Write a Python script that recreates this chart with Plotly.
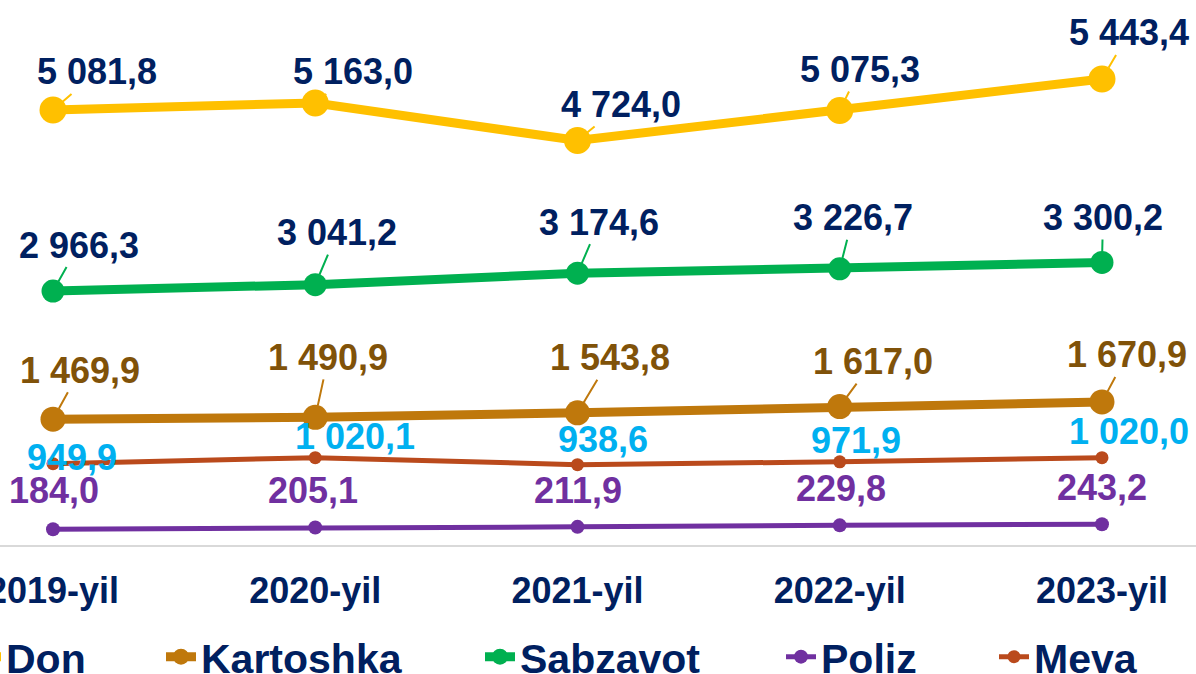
import plotly.graph_objects as go

# ---------------- data ----------------
years = ["2019-yil", "2020-yil", "2021-yil", "2022-yil", "2023-yil"]
don = [5081.8, 5163.0, 4724.0, 5075.3, 5443.4]
kartoshka = [1469.9, 1490.9, 1543.8, 1617.0, 1670.9]
sabzavot = [2966.3, 3041.2, 3174.6, 3226.7, 3300.2]
poliz = [184.0, 205.1, 211.9, 229.8, 243.2]
meva = [949.9, 1020.1, 938.6, 971.9, 1020.0]

series_names = ["Don", "Kartoshka", "Sabzavot", "Poliz", "Meva"]
series_values = [don, kartoshka, sabzavot, poliz, meva]

# ---------------- styles ----------------
FONT = "Liberation Sans, Arial, sans-serif"
NAVY = "#002060"

styles = {
    "Don": dict(color="#FFC000", width=9, size=27, label="#002060", leader=True, standoff=13,
                offsets=[(44, -38), (38, -31), (44, -36), (20, -41), (27, -46)], legendwidth=150),
    "Kartoshka": dict(color="#BF780C", width=9, size=25, label="#805209", leader=True, standoff=12,
                      offsets=[(27, -49), (13, -60), (33, -55), (33, -45), (25, -47)], legendwidth=274),
    "Sabzavot": dict(color="#00B050", width=9, size=23, label="#002060", leader=True, standoff=11,
                     offsets=[(26, -46), (22, -52), (22, -51), (13, -51), (1, -45)], legendwidth=256),
    "Poliz": dict(color="#7030A0", width=5, size=14, label="#7030A0", leader=False, standoff=0,
                  offsets=[(1, -39), (-2, -37), (1, -36), (1, -37), (0, -37)], legendwidth=168),
    "Meva": dict(color="#BA4A1C", width=5, size=13, label="#00B0F0", leader=False, standoff=0,
                 offsets=[(19, -6), (40, -21), (26, -25), (16, -21), (27, -26)], legendwidth=115),
}


def fmt(v):
    return f"{v:,.1f}".replace(",", " ").replace(".", ",")


fig = go.Figure()
annotations = []
for name, vals in zip(series_names, series_values):
    st = styles[name]
    fig.add_trace(go.Scatter(
        x=years, y=vals, name=name, mode="lines+markers",
        line=dict(color=st["color"], width=st["width"]),
        marker=dict(color=st["color"], size=st["size"]),
        legendwidth=st["legendwidth"],
        cliponaxis=False, hoverinfo="skip",
    ))
    for x, v, (dx, dy) in zip(years, vals, st["offsets"]):
        font = dict(family=FONT, size=36, color=st["label"], weight="bold")
        if st["leader"]:
            annotations.append(dict(
                x=x, y=v, xref="x", yref="y", text=fmt(v), font=font,
                showarrow=True, arrowhead=0, arrowwidth=2, arrowcolor=st["color"],
                standoff=st["standoff"], ax=dx, ay=dy, axref="pixel", ayref="pixel",
            ))
        else:
            annotations.append(dict(
                x=x, y=v, xref="x", yref="y", text=fmt(v), font=font,
                showarrow=False, xshift=dx, yshift=-dy,
            ))

fig.update_layout(
    width=1196, height=674,
    margin=dict(l=0, r=0, t=0, b=129, pad=0, autoexpand=False),
    paper_bgcolor="white", plot_bgcolor="white",
    annotations=annotations,
    showlegend=True,
    legend=dict(
        orientation="h", x=-34 / 1196, xanchor="left", y=-0.2055, yanchor="middle",
        font=dict(family=FONT, size=41, color=NAVY, weight="bold"),
        bgcolor="rgba(0,0,0,0)", borderwidth=0,
    ),
    xaxis=dict(
        type="category", range=[-0.2021, 4.3585],
        showline=True, linecolor="#D9D9D9", linewidth=2,
        showgrid=False, zeroline=False, ticks="",
        tickfont=dict(family=FONT, size=36, color=NAVY, weight="bold"),
        ticklabelstandoff=13, ticklabeloverflow="allow",
    ),
    yaxis=dict(range=[0, 6366], visible=False, showgrid=False, zeroline=False),
)

fig.write_html(
    "out.html",
    config={"displayModeBar": False},
    post_script="document.body.style.margin='0px';document.body.style.overflow='hidden';",
)
